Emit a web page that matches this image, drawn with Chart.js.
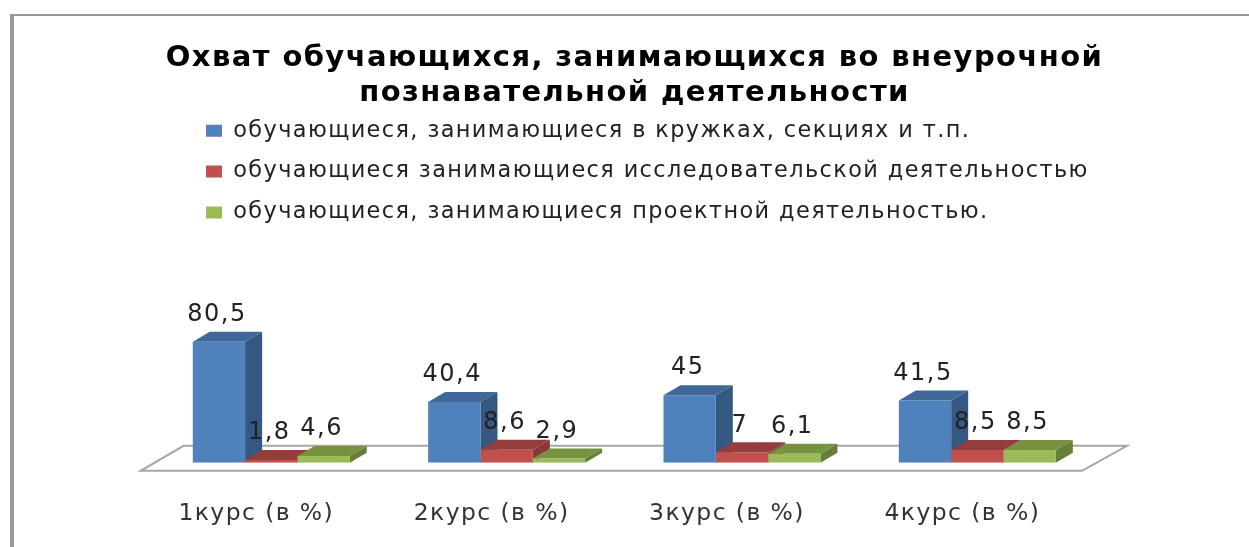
<!DOCTYPE html>
<html>
<head>
<meta charset="utf-8">
<script src="https://cdn.jsdelivr.net/npm/chart.js@4"></script>
<style>
    html, body { margin: 0; background: #fff; overflow: hidden; }
    #wrap { position: relative; width: 1249px; height: 547px; filter: blur(0.6px); }
    #frame { position: absolute; left: 10px; top: 14px; right: -10px; bottom: -10px; border-top: 2px solid #999; border-left: 4px solid #999; }
    canvas { position: absolute; left: 0; top: 0; }
</style>
</head>
<body>
<div id="wrap">
    <canvas id="chart" width="1249" height="547"></canvas>
    <div id="frame"></div>
</div>
<script>
const titleLines = ['Охват обучающихся, занимающихся во внеурочной', 'познавательной деятельности'];
const categories = ['1курс (в %)', '2курс (в %)', '3курс (в %)', '4курс (в %)'];
const clubs = [80.5, 40.4, 45, 41.5];
const research = [1.8, 8.6, 7, 8.5];
const projects = [4.6, 2.9, 6.1, 8.5];
const clubsLabel = 'обучающиеся, занимающиеся в кружках, секциях и т.п.';
const researchLabel = 'обучающиеся занимающиеся исследовательской деятельностью';
const projectsLabel = 'обучающиеся, занимающиеся проектной деятельностью.';

const depthX = 17;
const depthY = 10;

function fillShape(ctx, color, points) {
    ctx.fillStyle = color;
    ctx.beginPath();
    points.forEach((p, i) => i ? ctx.lineTo(p[0], p[1]) : ctx.moveTo(p[0], p[1]));
    ctx.closePath();
    ctx.fill();
}

// moves the title and legend to where the original has them
const placeBlocks = {
    id: 'placeBlocks',
    afterLayout(chart) {
        chart.titleBlock.left = 20;
        chart.titleBlock.right = 1249;
        chart.legend.left = 206 - chart.legend.options.labels.padding;
        chart.legend.top = 101;
    }
};

// the original text is stretched wide, letter spacing gets close to it
const textSpacing = {
    id: 'textSpacing',
    beforeDraw(chart) {
        chart.ctx.letterSpacing = '1.4px';
    },
    afterDraw(chart) {
        chart.ctx.letterSpacing = '0px';
    }
};

// floor of the 3d chart and the sides of the bars
const floorAndDepth = {
    id: 'floorAndDepth',
    beforeDatasetsDraw(chart) {
        const { ctx, chartArea } = chart;
        const { left, right, bottom } = chartArea;
        ctx.save();
        ctx.strokeStyle = '#a6a6a6';
        ctx.lineWidth = 2;
        ctx.beginPath();
        ctx.moveTo(left + 30, bottom - 17);
        ctx.lineTo(right + 32, bottom - 17);
        ctx.lineTo(right - 13, bottom + 8);
        ctx.lineTo(left - 13, bottom + 8);
        ctx.closePath();
        ctx.stroke();
        categories.forEach((c, i) => {
            chart.data.datasets.forEach((ds, d) => {
                const bar = chart.getDatasetMeta(d).data[i];
                const x0 = bar.x - bar.width / 2;
                const x1 = bar.x + bar.width / 2;
                fillShape(ctx, ds.topColor, [[x0, bar.y], [x0 + depthX, bar.y - depthY], [x1 + depthX, bar.y - depthY], [x1, bar.y]]);
                fillShape(ctx, ds.sideColor, [[x1, bar.y], [x1 + depthX, bar.y - depthY], [x1 + depthX, bar.base - depthY], [x1, bar.base]]);
            });
        });
        ctx.restore();
    }
};

const valueLabels = {
    id: 'valueLabels',
    afterDatasetsDraw(chart) {
        const ctx = chart.ctx;
        ctx.save();
        ctx.font = '24px "DejaVu Sans"';
        ctx.letterSpacing = '1.5px';
        ctx.fillStyle = '#222';
        ctx.textAlign = 'center';
        ctx.textBaseline = 'middle';
        chart.data.datasets.forEach((ds, d) => {
            chart.getDatasetMeta(d).data.forEach((bar, i) => {
                ctx.fillText(String(ds.data[i]).replace('.', ','), bar.x - 2, bar.y - 27);
            });
        });
        ctx.restore();
    }
};

new Chart(document.getElementById('chart'), {
    type: 'bar',
    data: {
        labels: categories,
        datasets: [
            { label: clubsLabel, data: clubs, backgroundColor: '#4f81bd', topColor: '#3f6797', sideColor: '#355882' },
            { label: researchLabel, data: research, backgroundColor: '#c0504d', topColor: '#953d3b', sideColor: '#8a3836' },
            { label: projectsLabel, data: projects, backgroundColor: '#9bbb59', topColor: '#779342', sideColor: '#66803a' }
        ]
    },
    options: {
        responsive: false,
        animation: false,
        layout: { padding: { left: 153.6, right: 154, top: 0, bottom: -10 } },
        datasets: { bar: { categoryPercentage: 0.667, barPercentage: 1 } },
        scales: {
            x: {
                grid: { display: false },
                border: { display: false },
                ticks: { color: '#333', padding: 29, maxRotation: 0, labelOffset: -15, font: { family: 'DejaVu Sans', size: 23.5 } }
            },
            y: { display: false, min: 0, max: 146 }
        },
        plugins: {
            title: {
                display: true,
                text: titleLines,
                color: '#000',
                font: { family: 'DejaVu Sans', size: 29, weight: 'bold', lineHeight: 1.2 },
                padding: { top: 41, bottom: 0 }
            },
            legend: {
                position: 'top',
                align: 'start',
                labels: {
                    boxWidth: 16,
                    boxHeight: 12,
                    padding: 18.5,
                    color: '#222',
                    font: { family: 'DejaVu Sans', size: 22.4 }
                }
            },
            tooltip: { enabled: false }
        }
    },
    plugins: [placeBlocks, textSpacing, floorAndDepth, valueLabels]
});
</script>
</body>
</html>
